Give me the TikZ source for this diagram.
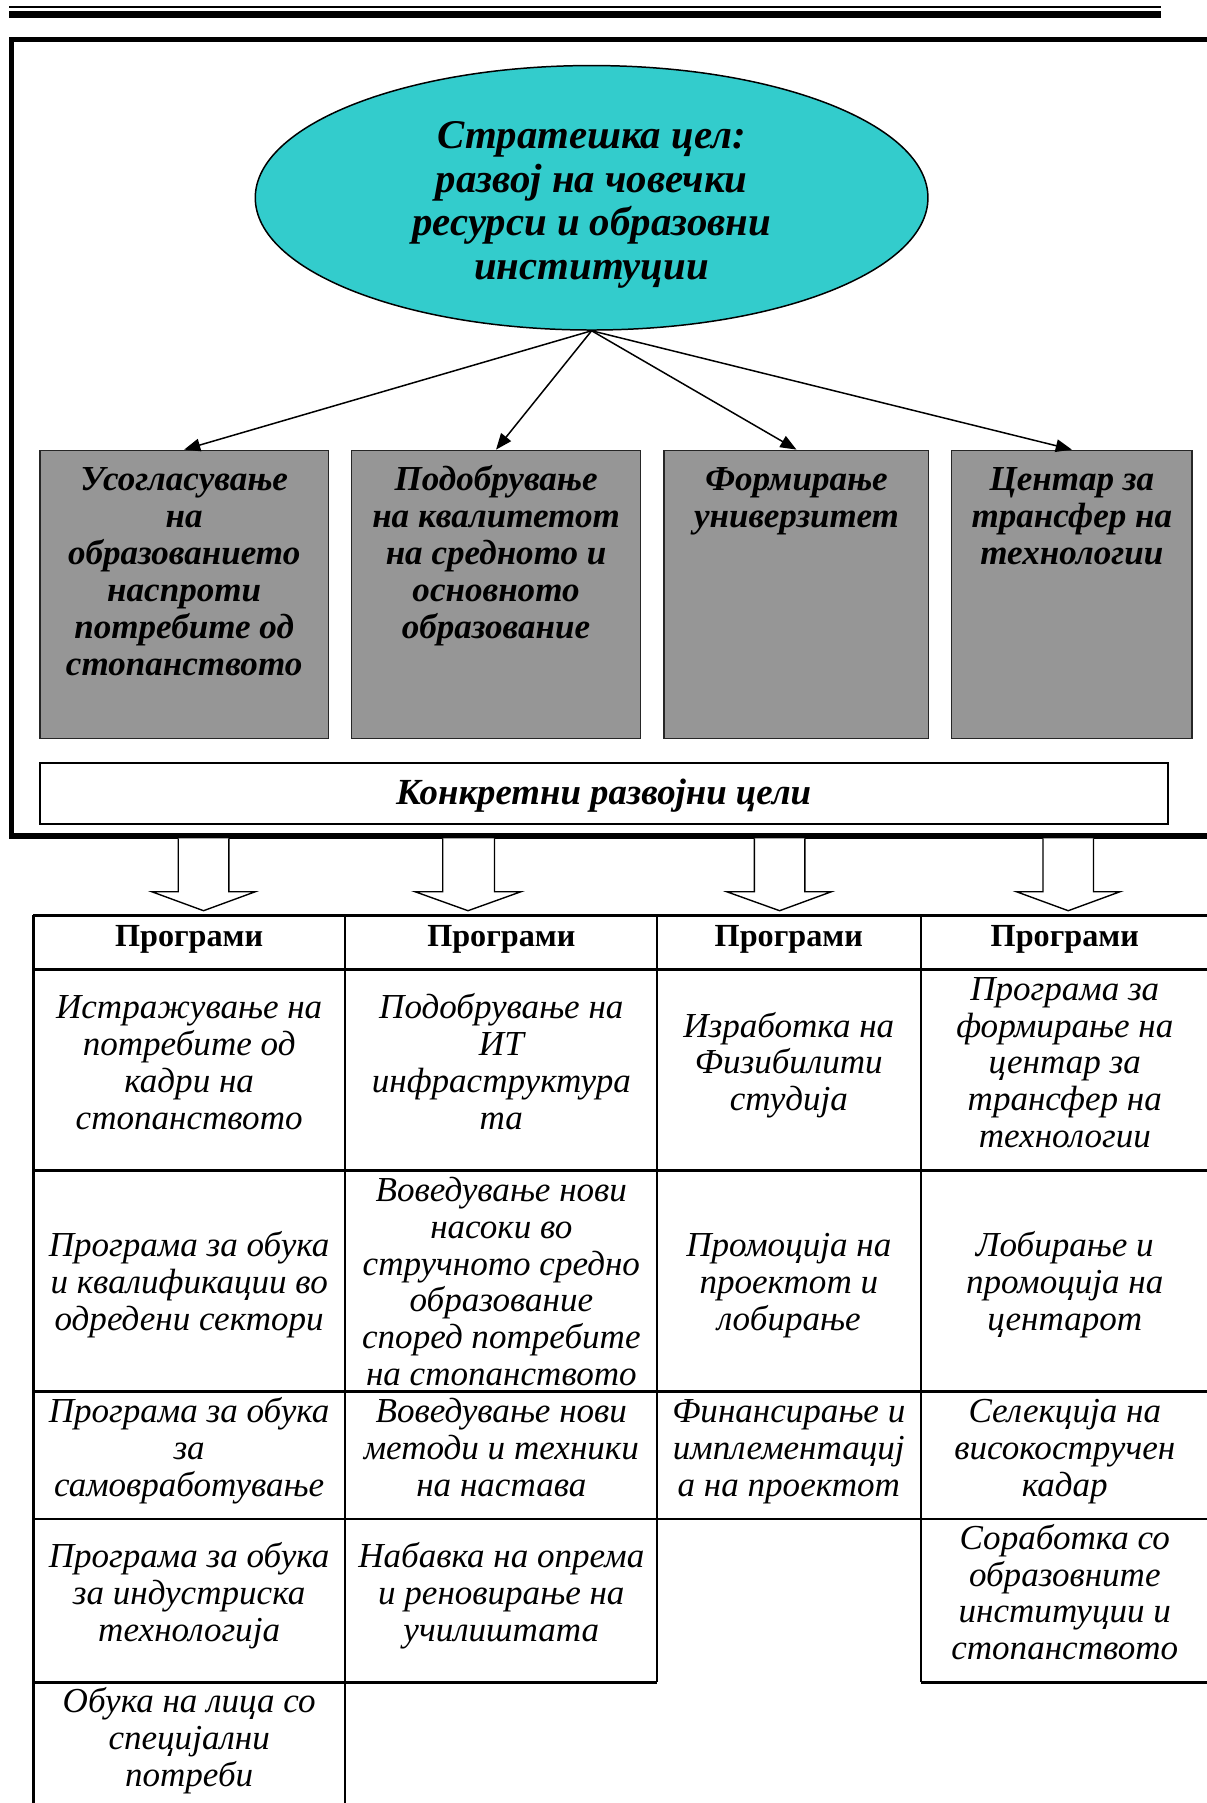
\documentclass[tikz,border=0pt]{standalone}
\usepackage{fontspec}
\setmainfont{Liberation Serif}
\usetikzlibrary{shapes.geometric,arrows.meta}
\definecolor{goalcyan}{HTML}{33CCCC}
\definecolor{boxgray}{HTML}{969696}
\begin{document}
\begin{tikzpicture}[x=1pt,y=-1pt,
  gbox/.style={draw=black!85, line width=1.3pt, fill=boxgray, inner sep=0pt, anchor=north west},
  gtext/.style={font=\fontsize{30.5}{32.3}\selectfont\bfseries\itshape, align=center, inner sep=0pt, anchor=north},
  cell/.style={font=\fontsize{30.5}{32}\selectfont\itshape, align=center, inner sep=0pt},
  head/.style={font=\fontsize{28}{32}\selectfont\bfseries, inner sep=0pt},
  arr/.style={line width=1.3pt, -{Triangle[length=14pt,width=11pt]}},
  blockarr/.style={line width=1.2pt, fill=white},
  tline/.style={line width=2.2pt}]
\useasboundingbox (0,0) rectangle (1049,1568);
% top rules
\draw[line width=1.7pt] (8,5.8) -- (1010,5.8);
\draw[line width=6pt] (8,13) -- (1010,13);
% frame
\draw[line width=4.5pt] (1070,34) -- (10,34) -- (10,727) -- (1070,727);
% ellipse
\node[ellipse, draw, line width=1.3pt, fill=goalcyan, minimum width=585pt, minimum height=230pt, inner sep=0pt] (goal) at (514.5,172) {};
\node[gtext, font=\fontsize{35.5}{38}\selectfont\bfseries\itshape] (goaltext) at (514.5,102.4)
  {\strut Стратешка цел:\\развој на човечки\\ресурси и образовни\\институции};
% gray boxes
\node[gbox, minimum width=251pt, minimum height=250.5pt] (b1) at (34,391) {};
\node[gbox, minimum width=251.5pt, minimum height=250.5pt] (b2) at (305,391) {};
\node[gbox, minimum width=230pt, minimum height=250.5pt] (b3) at (577,391) {};
\node[gbox, minimum width=209pt, minimum height=250.5pt] (b4) at (827,391) {};
\node[gtext] (t1) at (b1.north |- 0,403.4) {\strut Усогласување\\на\\образованието\\наспроти\\потребите од\\стопанството};
\node[gtext] (t2) at (b2.north |- 0,403.4) {\strut Подобрување\\на квалитетот\\на средното и\\основното\\образование};
\node[gtext] (t3) at (b3.north |- 0,403.4) {\strut Формирање\\универзитет};
\node[gtext] (t4) at (b4.north |- 0,403.4) {\strut Центар за\\трансфер на\\технологии};
% arrows
\draw[arr] (goal.south) -- (b1.north);
\draw[arr] (goal.south) -- (b2.north);
\draw[arr] (goal.south) -- (b3.north);
\draw[arr] (goal.south) -- (b4.north);
% concrete goals box
\node[draw, line width=1.3pt, minimum width=981pt, minimum height=53pt, inner sep=0pt, anchor=north west] (conc) at (34,663) {};
\node[head, font=\fontsize{32}{32}\selectfont\bfseries\itshape] (conctext) at (525,693.5) {\strut Конкретни развојни цели};
% block arrows
\draw[blockarr] (155,729) -- (155,775.5) -- (132,775.5) -- (177,792) -- (222,775.5) -- (199,775.5) -- (199,729);
\draw[blockarr] (385,729) -- (385,775.5) -- (361,775.5) -- (407,792) -- (453,775.5) -- (430,775.5) -- (430,729);
\draw[blockarr] (656,729) -- (656,775.5) -- (632,775.5) -- (678,792) -- (723,775.5) -- (700,775.5) -- (700,729);
\draw[blockarr] (907,729) -- (907,775.5) -- (884,775.5) -- (929,792) -- (974,775.5) -- (951,775.5) -- (951,729);
% table lines
\draw[tline] (29,796) -- (1070,796);
\draw[tline] (29,843) -- (1070,843);
\draw[tline] (29,1018) -- (1070,1018);
\draw[tline] (29,1210) -- (1070,1210);
\draw[tline] (29,1321) -- (1070,1321);
\draw[tline] (29,1463) -- (571.5,1463);
\draw[tline] (801,1463) -- (1070,1463);
\draw[tline] (29,796) -- (29,1580);
\draw[tline] (300,796) -- (300,1580);
\draw[tline] (571.5,796) -- (571.5,1463);
\draw[tline] (801,796) -- (801,1463);
% headers
\node[head] (h1) at (164.5,816.5) {\strut Програми};
\node[head] (h2) at (436,816.5) {\strut Програми};
\node[head] (h3) at (686,816.5) {\strut Програми};
\node[head] (h4) at (926,816.5) {\strut Програми};
% row 1
\node[cell] (c11) at (164.5,927.5) {\strut Истражување на\\потребите од\\кадри на\\стопанството\strut};
\node[cell] (c12) at (436,927.5) {\strut Подобрување на\\ИТ\\инфраструктура\\та\strut};
\node[cell] (c13) at (686,927.5) {\strut Изработка на\\Физибилити\\студија\strut};
\node[cell] (c14) at (926,927.5) {\strut Програма за\\формирање на\\центар за\\трансфер на\\технологии\strut};
% row 2
\node[cell] (c21) at (164.5,1118.5) {\strut Програма за обука\\и квалификации во\\одредени сектори\strut};
\node[cell] (c22) at (436,1118.5) {\strut Воведување нови\\насоки во\\стручното средно\\образование\\според потребите\\на стопанството\strut};
\node[cell] (c23) at (686,1118.5) {\strut Промоција на\\проектот и\\лобирање\strut};
\node[cell] (c24) at (926,1118.5) {\strut Лобирање и\\промоција на\\центарот\strut};
% row 3
\node[cell] (c31) at (164.5,1263) {\strut Програма за обука\\за\\самовработување\strut};
\node[cell] (c32) at (436,1263) {\strut Воведување нови\\методи и техники\\на настава\strut};
\node[cell] (c33) at (686,1263) {\strut Финансирање и\\имплементациј\\а на проектот\strut};
\node[cell] (c34) at (926,1263) {\strut Селекција на\\високостручен\\кадар\strut};
% row 4
\node[cell] (c41) at (164.5,1389) {\strut Програма за обука\\за индустриска\\технологија\strut};
\node[cell] (c42) at (436,1389) {\strut Набавка на опрема\\и реновирање на\\училиштата\strut};
\node[cell] (c44) at (926,1389) {\strut Соработка со\\образовните\\институции и\\стопанството\strut};
% row 5
\node[cell] (c51) at (164.5,1515) {\strut Обука на лица со\\специјални\\потреби\strut};
\end{tikzpicture}
\end{document}
